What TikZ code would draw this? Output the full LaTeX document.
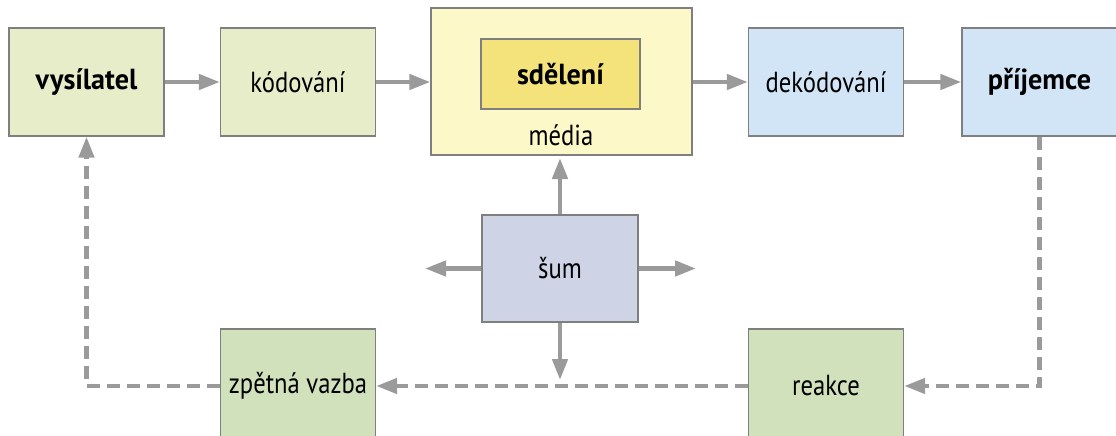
\documentclass[tikz,border=0pt]{standalone}
\usepackage{fontspec}
\setmainfont{PT Sans}[FakeStretch=0.85, BoldFeatures={FakeStretch=0.97}]
\usetikzlibrary{arrows.meta}
\definecolor{boxline}{HTML}{7F7F7F}
\definecolor{flowgray}{HTML}{9A9A9A}
\definecolor{sendfill}{HTML}{E6EDC8}
\definecolor{mediafill}{HTML}{FDF8C8}
\definecolor{msgfill}{HTML}{F3E37A}
\definecolor{recvfill}{HTML}{D2E5F6}
\definecolor{noisefill}{HTML}{CFD3E6}
\definecolor{backfill}{HTML}{D0E1BC}
\begin{document}
\begin{tikzpicture}[x=1pt,y=-1pt,
  label font/.style={font=\fontsize{29}{32}\selectfont},
  box/.style={draw=boxline, line width=1.3pt, minimum width=155pt,
    minimum height=108pt, inner sep=0pt, label font},
  strong/.style={font=\fontsize{29}{32}\selectfont\bfseries},
  flow/.style={draw=flowgray, line width=4.5pt,
    -{Triangle[length=21pt,width=15pt]}},
  fb/.style={draw=flowgray, line width=4.5pt, dash pattern=on 13pt off 7pt},
  fbarrow/.style={fb, -{Triangle[length=21pt,width=15pt]}}]
\useasboundingbox (0,0) rectangle (1116,436);
\clip (0,0) rectangle (1116,436);

% top row: sender side, medium, receiver side
\node[box, fill=sendfill, strong] (vys) at (86.5,82) {vysílatel};
\node[box, fill=sendfill] (kod) at (298,82) {kódování};
\node[box, fill=mediafill, minimum width=261pt, minimum height=147pt] (med) at (561.5,81.5) {};
\node[box, fill=msgfill, minimum width=159pt, minimum height=70pt, strong] (sde) at (560.5,74) {sdělení};
\node[label font, anchor=base, inner sep=0pt] (medlab) at (561,145) {média};
\node[box, fill=recvfill] (dek) at (826,82) {dekódování};
\node[box, fill=recvfill, strong] (pri) at (1039.5,82) {příjemce};

% noise in the middle
\node[box, fill=noisefill, minimum width=156pt, minimum height=107pt] (sum) at (560,268.5) {šum};

% bottom row: feedback path
\node[box, fill=backfill, minimum height=114pt] (zpe) at (298,386) {zpětná vazba};
\node[box, fill=backfill, minimum height=114pt] (rea) at (826,386) {reakce};

% main channel
\draw[flow] (vys) -- (kod);
\draw[flow] (kod.east) -- (kod.east -| med.west);
\draw[flow] (dek.west -| med.east) -- (dek.west);
\draw[flow] (dek) -- (pri);

% noise spreading out
\coordinate (nup) at (560,158);
\coordinate (nleft) at (425,268.5);
\coordinate (nright) at (696,268.5);
\coordinate (ndown) at (560,380);
\draw[flow] (sum.north) -- (nup);
\draw[flow] (sum.west) -- (nleft);
\draw[flow] (sum.east) -- (nright);
\draw[flow] (sum.south) -- (ndown);

% feedback loop
\draw[fbarrow] (pri.south) |- (rea.east);
\draw[fbarrow] (rea.west) -- (zpe.east);
\draw[fbarrow] (zpe.west) -| (vys.south);
\end{tikzpicture}
\end{document}
